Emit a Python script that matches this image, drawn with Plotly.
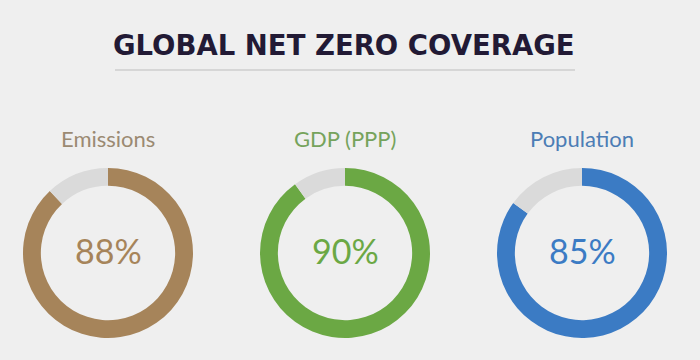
import plotly.graph_objects as go

categories = ["Emissions", "GDP (PPP)", "Population"]
coverage = [88, 90, 85]
title_text = "GLOBAL NET ZERO COVERAGE"

colors = ["#a6845a", "#6ba844", "#3b7bc4"]
label_colors = ["#9b8a72", "#76a35c", "#4c7db5"]
remainder_color = "#dadada"
bg = "#efefef"

W, H = 700, 360
centers_x = [108, 345, 582]
cy, r = 253, 85

fig = go.Figure()
for i, (cat, val) in enumerate(zip(categories, coverage)):
    cx = centers_x[i]
    fig.add_trace(go.Pie(
        values=[val, 100 - val],
        labels=[cat, "Other"],
        marker=dict(colors=[colors[i], remainder_color], line=dict(width=0)),
        hole=0.79,
        sort=False,
        direction="clockwise",
        rotation=0,
        textinfo="none",
        hoverinfo="label+percent",
        showlegend=False,
        domain=dict(x=[(cx - r) / W, (cx + r) / W],
                    y=[1 - (cy + r) / H, 1 - (cy - r) / H]),
    ))
    fig.add_annotation(x=cx / W, y=1 - 250 / H, xref="paper", yref="paper",
                       text=f"{val}%", showarrow=False,
                       font=dict(family="Lato", size=34, color=colors[i]),
                       xanchor="center", yanchor="middle")
    fig.add_annotation(x=cx / W, y=1 - 138 / H, xref="paper", yref="paper",
                       text=cat, showarrow=False,
                       font=dict(family="Lato", size=22, color=label_colors[i]),
                       xanchor="center", yanchor="middle")

fig.add_annotation(x=344 / W, y=1 - 45 / H, xref="paper", yref="paper",
                   text=f"<b>{title_text}</b>", showarrow=False,
                   font=dict(family="DejaVu Sans", size=27.5, color="#221a35"),
                   xanchor="center", yanchor="middle")
fig.add_shape(type="line", xref="paper", yref="paper",
              x0=115 / W, x1=575 / W, y0=1 - 70 / H, y1=1 - 70 / H,
              line=dict(color="#d6d6d6", width=2))

fig.update_layout(width=W, height=H, margin=dict(l=0, r=0, t=0, b=0),
                  paper_bgcolor=bg, plot_bgcolor=bg)
fig.write_html("out.html", config={"displayModeBar": False},
               post_script="document.body.style.margin='0';document.body.style.background='#efefef';")
